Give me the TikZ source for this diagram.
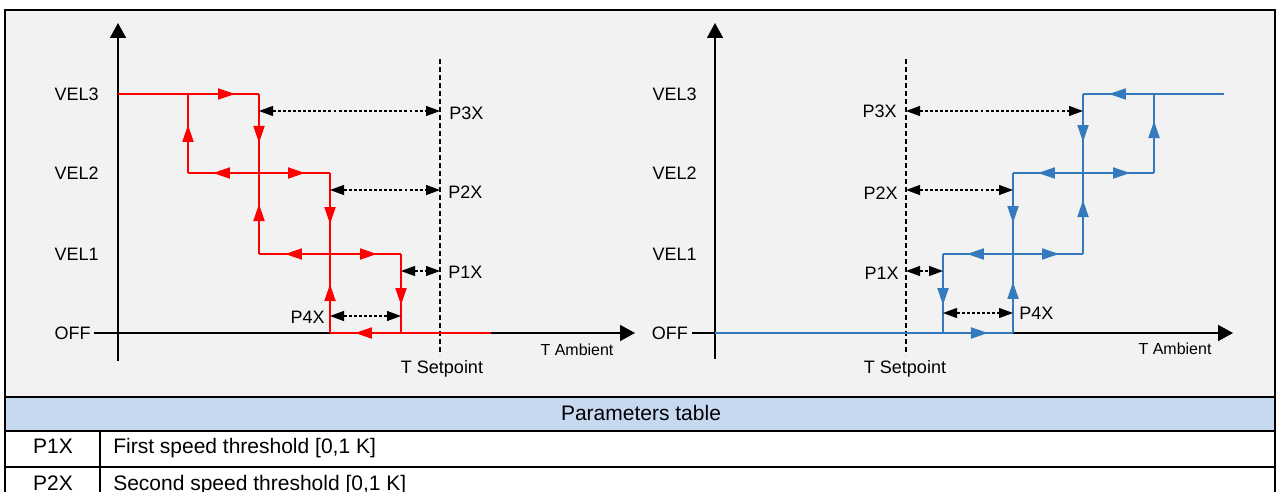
\documentclass[tikz,border=0pt]{standalone}
\usepackage{fontspec}
\setmainfont{Liberation Sans}
\usetikzlibrary{arrows.meta,decorations.markings}
\definecolor{bgray}{HTML}{F2F2F2}
\definecolor{hdrblue}{HTML}{C6D9F0}
\definecolor{stepblue}{RGB}{52,122,190}
\begin{document}
\begin{tikzpicture}[x=0.75pt,y=-0.75pt,ax/.style={line width=1.2pt,-{Triangle[length=11.25pt,width=12pt]}},lvl/.style={font=\fontsize{13.5}{16}\selectfont,inner sep=0},tlbl/.style={font=\fontsize{12}{14}\selectfont,anchor=base,inner sep=0},cell/.style={font=\fontsize{15.75}{18}\selectfont,inner sep=0},setp/.style={line width=0.8pt,dash pattern=on 3.75pt off 2.25pt},dimarr/.style={line width=0.8pt,dash pattern=on 2.2pt off 1.6pt,{Triangle[length=10.5pt,width=7.5pt]}-{Triangle[length=10.5pt,width=7.5pt]}},redl/.style={red,line width=1.4pt},bluel/.style={stepblue,line width=1.4pt},fwd/.style={postaction={decorate,decoration={markings,mark=at position #1 with {\arrow{Triangle[length=12.75pt,width=8.25pt]}}}}},bwd/.style={postaction={decorate,decoration={markings,mark=at position #1 with {\arrowreversed{Triangle[length=12.75pt,width=8.25pt]}}}}}]
\def\yT{94};
\def\yS{173};
\def\yO{254};
\def\yZ{333};
\def\ca{188};
\def\cb{259};
\def\cc{330};
\def\cd{401};
\def\ce{943};
\def\cf{1013};
\def\cg{1083};
\def\ch{1154};

\useasboundingbox (0,0) rectangle (1277,492);
\fill[bgray] (5,10) rectangle (1275,397);
\fill[hdrblue] (5,397) rectangle (1275,431);
\draw[line width=1.8pt] (5,500) -- (5,10) -- (1275,10) -- (1275,500);
\draw[line width=1.5pt] (5,397) -- (1275,397) (5,431) -- (1275,431) (5,467) -- (1275,467);
\draw[line width=1.5pt] (100,431) -- (100,500);

% left chart
\coordinate (ly0) at (118,361);
\coordinate (ly1) at (118,23);
\coordinate (lx0) at (94,\yZ);
\coordinate (lx1) at (635,\yZ);
\draw[ax] (ly0) -- (ly1);
\draw[ax] (lx0) -- (lx1);
\coordinate (sp1t) at (440,59);
\coordinate (sp1b) at (440,355);
\draw[setp] (sp1t) -- (sp1b);

\node[lvl,anchor=base east] (v3l) at (99,100.5) {VEL3};
\node[lvl,anchor=base east] (v2l) at (99,179.5) {VEL2};
\node[lvl,anchor=base east] (v1l) at (99,260) {VEL1};
\node[lvl,anchor=base east] (v0l) at (91,339.5) {OFF};
\node[lvl,anchor=base] (tsl) at (442,373) {T Setpoint};
\node[tlbl] (tal) at (577,355) {T Ambient};

\coordinate (l3a) at (118,\yT);
\coordinate (l3b) at (\ca,\yT);
\coordinate (l3c) at (\cb,\yT);
\coordinate (l2a) at (\ca,\yS);
\coordinate (l2c) at (\cc,\yS);
\coordinate (l1b) at (\cb,\yO);
\coordinate (l1d) at (\cd,\yO);
\coordinate (l0c) at (\cc,\yZ);
\coordinate (l0d) at (\cd,\yZ);
\coordinate (l0e) at (491,\yZ);
\draw[redl,fwd=0.83] (l3a) -- (l3c);
\draw[redl,fwd=0.61] (l2a) -- (l3b);
\draw[redl,fwd=0.306,bwd=0.6875] (l3c) -- (l1b);
\draw[redl,bwd=0.176,fwd=0.824] (l2a) -- (l2c);
\draw[redl,fwd=0.319,bwd=0.694] (l2c) -- (l0c);
\draw[redl,bwd=0.183,fwd=0.831] (l1b) -- (l1d);
\draw[redl,fwd=0.646] (l1d) -- (l0d);
\draw[redl,bwd=0.155] (l0c) -- (l0e);

\draw[dimarr] (l3c |- 0,111) -- (sp1t |- 0,111);
\draw[dimarr] (l2c |- 0,190) -- (sp1t |- 0,190);
\draw[dimarr] (l1d |- 0,271) -- (sp1t |- 0,271);
\draw[dimarr] (l0c |- 0,316) -- (l0d |- 0,316);
\node[lvl,anchor=base west] (p3l) at (449,119.3) {P3X};
\node[lvl,anchor=base west] (p2l) at (448,198) {P2X};
\node[lvl,anchor=base west] (p1l) at (448,278) {P1X};
\node[lvl,anchor=base east] (p4l) at (325,323) {P4X};

% right chart
\coordinate (ry0) at (715,359);
\coordinate (ry1) at (715,23);
\coordinate (rx0) at (692,\yZ);
\coordinate (rx1) at (1233,\yZ);
\draw[ax] (ry0) -- (ry1);
\draw[ax] (rx0) -- (rx1);
\coordinate (sp2t) at (906,59);
\coordinate (sp2b) at (906,355);
\draw[setp] (sp2t) -- (sp2b);

\node[lvl,anchor=base east] (v3r) at (697,100.5) {VEL3};
\node[lvl,anchor=base east] (v2r) at (697,179.5) {VEL2};
\node[lvl,anchor=base east] (v1r) at (697,260) {VEL1};
\node[lvl,anchor=base east] (v0r) at (688,339.5) {OFF};
\node[lvl,anchor=base] (tsr) at (905,373) {T Setpoint};
\node[tlbl] (tar) at (1175,354) {T Ambient};

\coordinate (r0a) at (715,\yZ);
\coordinate (r0e) at (\ce,\yZ);
\coordinate (r0f) at (\cf,\yZ);
\coordinate (r1e) at (\ce,\yO);
\coordinate (r1g) at (\cg,\yO);
\coordinate (r2f) at (\cf,\yS);
\coordinate (r2h) at (\ch,\yS);
\coordinate (r3g) at (\cg,\yT);
\coordinate (r3h) at (\ch,\yT);
\coordinate (r3e) at (1224,\yT);
\draw[bluel,fwd=0.916] (r0a) -- (r0f);
\draw[bluel,fwd=0.646] (r1e) -- (r0e);
\draw[bluel,bwd=0.171,fwd=0.829] (r1e) -- (r1g);
\draw[bluel,fwd=0.319,bwd=0.6875] (r0f) -- (r2f);
\draw[bluel,bwd=0.177,fwd=0.83] (r2f) -- (r2h);
\draw[bluel,fwd=0.3375,bwd=0.7] (r1g) -- (r3g);
\draw[bluel,fwd=0.658] (r2h) -- (r3h);
\draw[bluel,bwd=0.184] (r3g) -- (r3e);

\draw[dimarr] (sp2t |- 0,111) -- (r3g |- 0,111);
\draw[dimarr] (sp2t |- 0,190) -- (r2f |- 0,190);
\draw[dimarr] (sp2t |- 0,271) -- (r1e |- 0,271);
\draw[dimarr] (r1e |- 0,313) -- (r2f |- 0,313);
\node[lvl,anchor=base east] (p3r) at (897,117) {P3X};
\node[lvl,anchor=base east] (p2r) at (898,199) {P2X};
\node[lvl,anchor=base east] (p1r) at (899,279) {P1X};
\node[lvl,anchor=base west] (p4r) at (1019,319) {P4X};

% table
\node[cell,anchor=base] (thead) at (641,420) {Parameters table};
\node[cell,anchor=base] (k1) at (53,453) {P1X};
\node[cell,anchor=base west] (d1) at (113,453) {First speed threshold [0,1 K]};
\node[cell,anchor=base] (k2) at (53,490.5) {P2X};
\node[cell,anchor=base west] (d2) at (113,490.5) {Second speed threshold [0,1 K]};
\end{tikzpicture}
\end{document}
